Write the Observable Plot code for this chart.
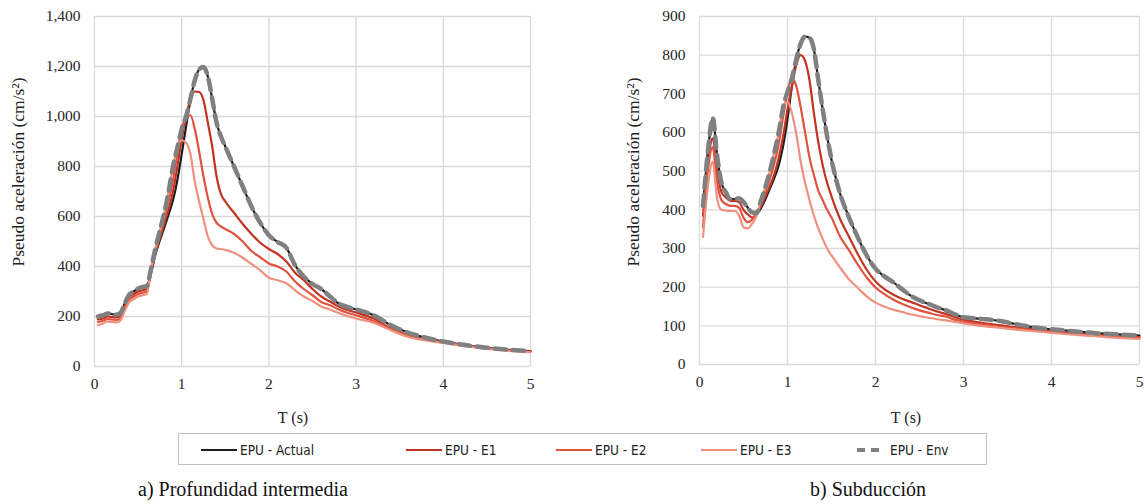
<!DOCTYPE html>
<html>
<head>
<meta charset="utf-8">
<script src="https://cdn.jsdelivr.net/npm/d3@7"></script>
<script src="https://cdn.jsdelivr.net/npm/@observablehq/plot@0.6"></script>
<style>
  html, body { margin: 0; padding: 0; background: #fff; }
  #wrap { position: relative; width: 1145px; height: 504px; overflow: hidden; background: #fff; }
  #wrap svg { font-family: "Liberation Serif", "Times New Roman", serif !important; font-size: 15.5px !important; }
  #wrap svg text { font-family: "Liberation Serif", "Times New Roman", serif !important; fill: #262626; }
  .ylab { position: absolute; font-family: "Liberation Serif", "Times New Roman", serif; font-size: 17.5px; color: #222;
          white-space: nowrap; transform: translate(-50%, -50%) rotate(-90deg); }
  .xlab { position: absolute; font-family: "Liberation Serif", "Times New Roman", serif; font-size: 16px; color: #222;
          white-space: nowrap; transform: translate(-50%, -50%); }
  .cap { position: absolute; font-family: "Liberation Serif", "Times New Roman", serif; font-size: 20px; color: #111;
         white-space: nowrap; transform: translateY(-50%); }
  #legend { position: absolute; left: 178px; top: 433px; width: 809px; height: 32px; border: 1px solid #bfbfbf; box-sizing: border-box; }
  .li { position: absolute; top: 0; height: 32px; display: flex; align-items: center;
        font-family: "Liberation Sans Narrow", "DejaVu Sans Condensed", "Liberation Sans", sans-serif; font-size: 13.5px; color: #222; white-space: nowrap; }
  .li svg { margin-right: 3px; }
</style>
</head>
<body>
<div id="wrap"></div>
<script>
// Period T (s)
const T = [0.04, 0.1, 0.15, 0.2, 0.25, 0.3, 0.35, 0.4, 0.45, 0.5, 0.55, 0.6, 0.65, 0.7, 0.75, 0.8, 0.85, 0.9, 0.95, 1.0,
           1.05, 1.1, 1.15, 1.2, 1.25, 1.3, 1.35, 1.4, 1.45, 1.5, 1.6, 1.7, 1.8, 1.9, 2.0, 2.1, 2.2, 2.3, 2.4, 2.5,
           2.6, 2.7, 2.8, 2.9, 3.0, 3.2, 3.4, 3.6, 3.8, 4.0, 4.25, 4.5, 4.75, 5.0];

// a) Profundidad intermedia
const profActual = [200, 205, 212, 210, 207, 215, 255, 288, 300, 312, 318, 322, 375, 450, 505, 555, 608, 665, 745, 850,
                    960, 1065, 1145, 1188, 1198, 1160, 1070, 975, 920, 880, 800, 720, 640, 575, 525, 498, 475, 405, 360, 330,
                    310, 280, 252, 238, 228, 205, 165, 135, 115, 100, 86, 75, 67, 62];
const profE1 = [188, 192, 200, 198, 196, 205, 245, 278, 290, 300, 305, 310, 380, 455, 515, 570, 630, 700, 800, 910,
                1000, 1070, 1100, 1098, 1065, 975, 880, 760, 690, 660, 615, 570, 530, 495, 470, 450, 420, 375, 345, 310,
                280, 260, 240, 226, 216, 192, 152, 125, 108, 97, 84, 73, 65, 60];
const profE2 = [178, 183, 190, 188, 186, 195, 235, 268, 280, 290, 295, 300, 385, 462, 528, 590, 660, 745, 850, 950,
                995, 1005, 950, 860, 760, 675, 610, 575, 560, 550, 530, 500, 462, 437, 412, 400, 380, 340, 310, 285,
                258, 245, 228, 215, 205, 182, 150, 122, 106, 96, 83, 72, 64, 59];
const profE3 = [165, 172, 180, 178, 176, 185, 225, 258, 270, 280, 285, 290, 395, 475, 545, 615, 700, 800, 875, 905,
                895, 850, 740, 660, 590, 520, 485, 472, 470, 466, 455, 435, 410, 385, 355, 345, 333, 305, 280, 262,
                240, 228, 214, 202, 192, 175, 145, 118, 104, 94, 81, 70, 62, 57];
const profEnv = [200, 205, 212, 210, 207, 215, 255, 288, 300, 312, 318, 322, 395, 475, 545, 615, 700, 800, 875, 950,
                 1000, 1070, 1145, 1188, 1198, 1160, 1070, 975, 920, 880, 800, 720, 640, 575, 525, 498, 475, 405, 360, 330,
                 310, 280, 252, 238, 228, 205, 165, 135, 115, 100, 86, 75, 67, 62];

// b) Subducción
const subActual = [410, 560, 638, 540, 470, 445, 428, 428, 430, 420, 405, 393, 390, 405, 428, 455, 482, 515, 565, 635,
                   720, 790, 830, 848, 845, 815, 735, 660, 590, 530, 440, 380, 328, 282, 248, 228, 213, 195, 178, 166,
                   157, 148, 140, 130, 122, 118, 113, 104, 96, 91, 86, 81, 78, 75];
const subE1 = [385, 530, 585, 500, 445, 432, 423, 423, 420, 400, 388, 380, 390, 410, 435, 462, 492, 535, 590, 660,
               718, 775, 800, 785, 735, 650, 575, 515, 470, 435, 375, 330, 285, 245, 215, 195, 181, 170, 162, 153,
               145, 137, 131, 122, 116, 108, 102, 96, 91, 86, 81, 77, 73, 70];
const subE2 = [355, 510, 562, 470, 425, 415, 410, 410, 405, 380, 368, 375, 392, 418, 448, 480, 520, 570, 640, 705,
               740, 720, 665, 600, 535, 490, 450, 425, 400, 380, 330, 295, 258, 225, 199, 182, 168, 157, 148, 140,
               134, 128, 124, 116, 111, 104, 98, 93, 88, 84, 79, 75, 71, 68];
const subE3 = [330, 470, 525, 430, 400, 398, 397, 397, 385, 355, 352, 365, 385, 425, 460, 500, 548, 600, 665, 680,
               650, 596, 525, 470, 425, 385, 352, 325, 300, 282, 250, 220, 198, 176, 160, 150, 142, 136, 130, 125,
               121, 117, 114, 110, 106, 100, 95, 90, 86, 82, 77, 73, 69, 66];
const subEnv = [410, 560, 638, 540, 470, 445, 428, 428, 430, 420, 405, 393, 392, 425, 460, 500, 548, 600, 665, 705,
                740, 790, 830, 848, 845, 815, 735, 660, 590, 530, 440, 380, 328, 282, 248, 228, 213, 195, 178, 166,
                157, 148, 140, 130, 122, 118, 113, 104, 96, 91, 86, 81, 78, 75];

const seriesNames = ["EPU - Actual", "EPU - E1", "EPU - E2", "EPU - E3", "EPU - Env"];
const seriesColors = ["#1e1e1e", "#c23321", "#e0533f", "#f0907f", "#808080"];
const xTicks = [0, 1, 2, 3, 4, 5];
const yTicksProf = [0, 200, 400, 600, 800, 1000, 1200, 1400];
const yTicksSub = [0, 100, 200, 300, 400, 500, 600, 700, 800, 900];

const wrap = document.getElementById("wrap");

function tidy(arrs) {
  const rows = [];
  arrs.forEach((arr, k) => arr.forEach((v, i) => rows.push({T: T[i], v, s: seriesNames[k]})));
  return rows;
}

function makeChart(arrs, yTicks, width, marginLeft, marginRight, bottomPx) {
  const data = tidy(arrs);
  const solid = data.filter(d => d.s !== "EPU - Env");
  const env = data.filter(d => d.s === "EPU - Env");
  const yMax = yTicks[yTicks.length - 1];
  return Plot.plot({
    width, height: 400,
    marginLeft, marginRight, marginTop: 16, marginBottom: 400 - bottomPx,
    style: {background: "#fff"},
    x: {domain: [0, 5], label: null},
    y: {domain: [0, yMax], label: null},
    color: {domain: seriesNames, range: seriesColors},
    marks: [
      Plot.gridX(xTicks, {stroke: "#d9d9d9", strokeOpacity: 1, strokeWidth: 1.3}),
      Plot.gridY(yTicks, {stroke: "#d9d9d9", strokeOpacity: 1, strokeWidth: 1.3}),
      Plot.axisX(xTicks, {tickSize: 0, tickPadding: 11, label: null, tickFormat: d3.format("d")}),
      Plot.axisY(yTicks, {tickSize: 0, tickPadding: 14, label: null, tickFormat: d3.format(",")}),
      Plot.line(solid, {x: "T", y: "v", z: "s", stroke: "s", strokeWidth: 2.2, curve: "monotone-x"}),
      Plot.line(env, {x: "T", y: "v", stroke: "s", strokeWidth: 4.5, strokeDasharray: "11,7", curve: "monotone-x"})
    ]
  });
}

const left = makeChart([profActual, profE1, profE2, profE3, profEnv], yTicksProf, 545, 94, 15, 366);
left.style.position = "absolute"; left.style.left = "0px"; left.style.top = "0px";
wrap.appendChild(left);

const right = makeChart([subActual, subE1, subE2, subE3, subEnv], yTicksSub, 540, 94, 6, 364);
right.style.position = "absolute"; right.style.left = "605px"; right.style.top = "0px";
wrap.appendChild(right);

function addDiv(cls, text, x, y) {
  const d = document.createElement("div");
  d.className = cls; d.textContent = text;
  d.style.left = x + "px"; d.style.top = y + "px";
  wrap.appendChild(d);
}
addDiv("ylab", "Pseudo aceleración (cm/s²)", 18, 172);
addDiv("ylab", "Pseudo aceleración (cm/s²)", 633, 172);
addDiv("xlab", "T (s)", 293, 418);
addDiv("xlab", "T (s)", 906, 418);
addDiv("cap", "a) Profundidad intermedia", 138, 489);
addDiv("cap", "b) Subducción", 810, 489);

// legend
const legend = document.createElement("div");
legend.id = "legend";
wrap.appendChild(legend);
const legendX = [22, 227, 377, 522, 672];
seriesNames.forEach((name, k) => {
  const item = document.createElement("div");
  item.className = "li";
  item.style.left = legendX[k] + "px";
  const dashed = name === "EPU - Env";
  item.innerHTML = `<svg width="36" height="10"><line x1="${dashed ? 6 : 0}" x2="${dashed ? 32 : 36}" y1="5" y2="5" stroke="${seriesColors[k]}"
     stroke-width="${dashed ? 4 : 2}" ${dashed ? 'stroke-dasharray="8,6"' : ''}/></svg><span>${name}</span>`;
  legend.appendChild(item);
});
</script>
</body>
</html>
